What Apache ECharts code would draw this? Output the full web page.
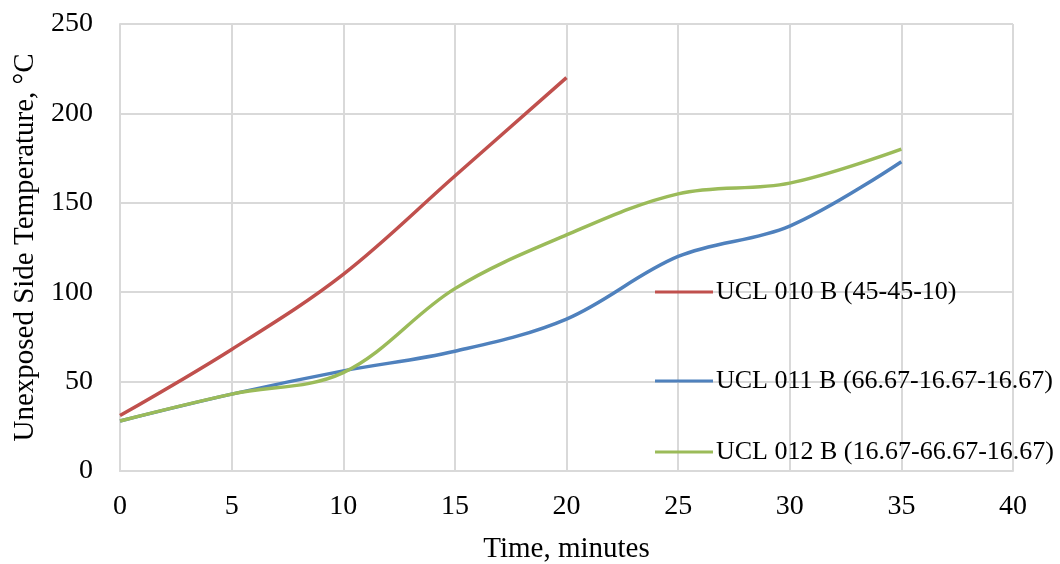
<!DOCTYPE html>
<html>
<head>
<meta charset="utf-8">
<script src="https://cdn.jsdelivr.net/npm/echarts@6/dist/echarts.min.js"></script>
<style>
  html, body { margin: 0; padding: 0; background: #fff; }
  #chart { width: 1060px; height: 564px; }
</style>
</head>
<body>
<div id="chart"></div>
<script>
// Time (minutes) and unexposed side temperatures (°C)
const minutes = [0, 5, 10, 15, 20, 25, 30, 35];
const ucl010 = [31, 68, 110, 165, 220];
const ucl011 = [28, 43, 56, 67, 85, 120, 137, 173];
const ucl012 = [28, 43, 55, 102, 132, 155, 161, 180];

const seriesNames = [
  "UCL 010 B (45-45-10)",
  "UCL 011 B (66.67-16.67-16.67)",
  "UCL 012 B (16.67-66.67-16.67)",
];
const seriesColors = ["#c0504d", "#4f81bd", "#9bbb59"];
const seriesValues = [ucl010, ucl011, ucl012];

const font = "'Liberation Serif', 'DejaVu Serif', serif";

const chart = echarts.init(document.getElementById("chart"));

const legendTops = [274, 363, 434];

chart.setOption({
  animation: false,
  textStyle: { fontFamily: font },
  grid: { left: 120, right: 47, top: 24, bottom: 93, outerBoundsMode: "none", containLabel: false },
  xAxis: {
    type: "value",
    min: 0,
    max: 40,
    interval: 5,
    name: "Time, minutes",
    nameLocation: "middle",
    nameGap: 64,
    nameTextStyle: { fontFamily: font, fontSize: 29, color: "#000" },
    axisLine: { show: true, lineStyle: { color: "#d9d9d9", width: 2 } },
    axisTick: { show: false },
    axisLabel: { fontFamily: font, fontSize: 28, color: "#000", margin: 22 },
    splitLine: { show: true, lineStyle: { color: "#d9d9d9", width: 2 } },
  },
  yAxis: {
    type: "value",
    min: 0,
    max: 250,
    interval: 50,
    name: "Unexposed Side Temperature, °C",
    nameLocation: "middle",
    nameGap: 79,
    nameTextStyle: { fontFamily: font, fontSize: 29, color: "#000" },
    axisLine: { show: true, lineStyle: { color: "#d9d9d9", width: 2 } },
    axisTick: { show: false },
    axisLabel: { fontFamily: font, fontSize: 28, color: "#000", margin: 27 },
    splitLine: { show: true, lineStyle: { color: "#d9d9d9", width: 2 } },
  },
  legend: seriesNames.map((name, i) => ({
    data: [name],
    left: 650,
    top: legendTops[i],
    icon: "rect",
    itemWidth: 58,
    itemHeight: 3,
    itemGap: 4,
    textStyle: { fontFamily: font, fontSize: 26, color: "#000", padding: [0, 0, 0, -2] },
  })),
  series: seriesNames.map((name, i) => ({
    name,
    type: "line",
    smooth: 0.35,
    showSymbol: false,
    color: seriesColors[i],
    lineStyle: { width: 3.5, color: seriesColors[i] },
    data: seriesValues[i].map((v, j) => [minutes[j], v]),
  })),
});
</script>
</body>
</html>
